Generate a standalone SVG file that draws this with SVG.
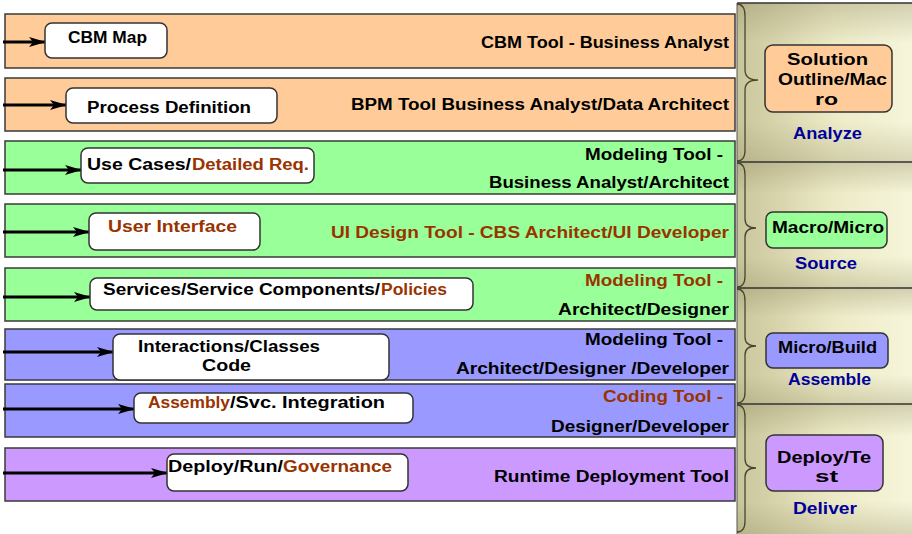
<svg xmlns="http://www.w3.org/2000/svg" width="912" height="534" viewBox="0 0 912 534">
<defs>
<style>
.t{font-family:"Liberation Sans",Arial,sans-serif;font-weight:bold;font-size:16px;fill:#000}
.r{fill:#993300}
.b{fill:#000099}
.band{stroke:#3a3a3a;stroke-width:1.5}
.node{fill:#fff;stroke:#333;stroke-width:1.5}
.lab{stroke:#333;stroke-width:1.5}
.conn{stroke:#000;stroke-width:3;fill:none;marker-end:url(#ah)}
.brace{fill:none;stroke:#4a4530;stroke-width:1.3}
.div{stroke:#333;stroke-width:1.5}
</style>
<marker id="ah" markerWidth="17" markerHeight="10" refX="16" refY="5" orient="auto" markerUnits="userSpaceOnUse">
<path d="M0,0 L17,5 L0,10 L4,5 z" fill="#000"/>
</marker>
<linearGradient id="gh" x1="0" y1="0" x2="1" y2="0">
<stop offset="0" stop-color="#C9C59B"/>
<stop offset="0.55" stop-color="#ECEAC6"/>
<stop offset="1" stop-color="#F6F5DA"/>
</linearGradient>
<linearGradient id="gv" x1="0" y1="0" x2="0" y2="1">
<stop offset="0" stop-color="#8f8a60" stop-opacity="0.35"/>
<stop offset="0.25" stop-color="#8f8a60" stop-opacity="0"/>
<stop offset="0.75" stop-color="#8f8a60" stop-opacity="0"/>
<stop offset="1" stop-color="#8f8a60" stop-opacity="0.3"/>
</linearGradient>
</defs>
<rect width="912" height="534" fill="#fff"/>

<!-- right panel -->
<g id="panel">
<rect x="737" y="3" width="175" height="531" fill="url(#gh)"/>
<rect x="737" y="3" width="175" height="159" fill="url(#gv)"/>
<rect x="737" y="162" width="175" height="126" fill="url(#gv)"/>
<rect x="737" y="288" width="175" height="116" fill="url(#gv)"/>
<rect x="737" y="404" width="175" height="130" fill="url(#gv)"/>
<line class="div" x1="737" y1="3" x2="912" y2="3"/>
<line class="div" x1="737" y1="162" x2="912" y2="162"/>
<line class="div" x1="737" y1="288" x2="912" y2="288"/>
<line class="div" x1="737" y1="404" x2="912" y2="404"/>
<line x1="737" y1="3" x2="737" y2="534" stroke="#555" stroke-width="1"/>
<path class="brace" d="M737,4 Q745,4 745,16 L745,70 Q745,80 758,80 Q745,80 745,90 L745,150 Q745,161 737,161"/>
<path class="brace" d="M737,163 Q745,163 745,175 L745,219 Q745,228 756,228 Q745,228 745,237 L745,276 Q745,287 737,287"/>
<path class="brace" d="M737,289 Q745,289 745,301 L745,337 Q745,346 756,346 Q745,346 745,355 L745,392 Q745,403 737,403"/>
<path class="brace" d="M737,405 Q745,405 745,417 L745,459 Q745,468 756,468 Q745,468 745,477 L745,521 Q745,532 737,532"/>
</g>

<!-- bands -->
<g id="bands">
<rect class="band" x="5" y="14" width="730" height="54" fill="#FFCC99"/>
<rect class="band" x="5" y="78" width="730" height="53" fill="#FFCC99"/>
<rect class="band" x="5" y="141" width="730" height="53" fill="#99FF99"/>
<rect class="band" x="5" y="204" width="730" height="53" fill="#99FF99"/>
<rect class="band" x="5" y="268" width="730" height="53" fill="#99FF99"/>
<rect class="band" x="5" y="329" width="730" height="51" fill="#9999FF"/>
<rect class="band" x="5" y="384" width="730" height="53" fill="#9999FF"/>
<rect class="band" x="5" y="448" width="730" height="53" fill="#CC99FF"/>
</g>

<!-- connectors -->
<g id="connectors">
<line class="conn" x1="3" y1="42" x2="45" y2="42"/>
<line class="conn" x1="3" y1="105" x2="66" y2="105"/>
<line class="conn" x1="3" y1="170" x2="81" y2="170"/>
<line class="conn" x1="3" y1="232" x2="89" y2="232"/>
<line class="conn" x1="3" y1="297" x2="90" y2="297"/>
<line class="conn" x1="3" y1="352" x2="113" y2="352"/>
<line class="conn" x1="3" y1="409" x2="134" y2="409"/>
<line class="conn" x1="3" y1="473" x2="167" y2="473"/>
</g>

<!-- band tool labels -->
<g id="tools">
<text class="t" x="729" y="48" text-anchor="end" textLength="248" lengthAdjust="spacingAndGlyphs">CBM Tool - Business Analyst</text>
<text class="t" x="729" y="110" text-anchor="end" textLength="378" lengthAdjust="spacingAndGlyphs">BPM Tool Business Analyst/Data Architect</text>
<text class="t" x="723" y="160" text-anchor="end" textLength="138" lengthAdjust="spacingAndGlyphs">Modeling Tool -</text>
<text class="t" x="729" y="188" text-anchor="end" textLength="240" lengthAdjust="spacingAndGlyphs">Business Analyst/Architect</text>
<text class="t r" x="729" y="238" text-anchor="end" textLength="398" lengthAdjust="spacingAndGlyphs">UI Design Tool - CBS Architect/UI Developer</text>
<text class="t r" x="723" y="286" text-anchor="end" textLength="138" lengthAdjust="spacingAndGlyphs">Modeling Tool -</text>
<text class="t" x="729" y="315" text-anchor="end" textLength="171" lengthAdjust="spacingAndGlyphs">Architect/Designer</text>
<text class="t" x="723" y="345" text-anchor="end" textLength="138" lengthAdjust="spacingAndGlyphs">Modeling Tool -</text>
<text class="t" x="729" y="374" text-anchor="end" textLength="273" lengthAdjust="spacingAndGlyphs">Architect/Designer /Developer</text>
<text class="t r" x="723" y="402" text-anchor="end" textLength="120" lengthAdjust="spacingAndGlyphs">Coding Tool -</text>
<text class="t" x="729" y="432" text-anchor="end" textLength="178" lengthAdjust="spacingAndGlyphs">Designer/Developer</text>
<text class="t" x="729" y="482" text-anchor="end" textLength="235" lengthAdjust="spacingAndGlyphs">Runtime Deployment Tool</text>
</g>

<!-- nodes -->
<g id="n-cbm-map">
<rect class="node" x="45" y="23" width="122" height="35" rx="7"/>
<text class="t" x="68" y="43" textLength="79" lengthAdjust="spacingAndGlyphs">CBM Map</text>
</g>
<g id="n-process-definition">
<rect class="node" x="66" y="88" width="211" height="35" rx="7"/>
<text class="t" x="87" y="113" textLength="164" lengthAdjust="spacingAndGlyphs">Process Definition</text>
</g>
<g id="n-use-cases">
<rect class="node" x="81" y="148" width="233" height="35" rx="7"/>
<text class="t" x="87" y="170" textLength="104" lengthAdjust="spacingAndGlyphs">Use Cases/</text>
<text class="t r" x="192" y="170" textLength="117" lengthAdjust="spacingAndGlyphs">Detailed Req.</text>
</g>
<g id="n-user-interface">
<rect class="node" x="89" y="213" width="171" height="37" rx="7"/>
<text class="t r" x="108" y="232" textLength="129" lengthAdjust="spacingAndGlyphs">User Interface</text>
</g>
<g id="n-services">
<rect class="node" x="90" y="278" width="383" height="32" rx="7"/>
<text class="t" x="103" y="295" textLength="277" lengthAdjust="spacingAndGlyphs">Services/Service Components/</text>
<text class="t r" x="381" y="295" textLength="66" lengthAdjust="spacingAndGlyphs">Policies</text>
</g>
<g id="n-interactions">
<rect class="node" x="113" y="334" width="276" height="46" rx="7"/>
<text class="t" x="138" y="352" textLength="182" lengthAdjust="spacingAndGlyphs">Interactions/Classes</text>
<text class="t" x="202" y="371" textLength="49" lengthAdjust="spacingAndGlyphs">Code</text>
</g>
<g id="n-assembly">
<rect class="node" x="134" y="393" width="279" height="30" rx="7"/>
<text class="t r" x="148" y="408" textLength="82" lengthAdjust="spacingAndGlyphs">Assembly</text>
<text class="t" x="230" y="408" textLength="155" lengthAdjust="spacingAndGlyphs">/Svc. Integration</text>
</g>
<g id="n-deploy-run">
<rect class="node" x="167" y="454" width="241" height="37" rx="7"/>
<text class="t" x="168" y="472" textLength="115" lengthAdjust="spacingAndGlyphs">Deploy/Run/</text>
<text class="t r" x="283" y="472" textLength="109" lengthAdjust="spacingAndGlyphs">Governance</text>
</g>

<!-- phase labels -->
<g id="n-analyze">
<rect class="lab" x="765" y="45" width="127" height="67" rx="8" fill="#FFCC99"/>
<text class="t" x="787" y="65" textLength="81" lengthAdjust="spacingAndGlyphs">Solution</text>
<text class="t" x="778" y="85" textLength="109" lengthAdjust="spacingAndGlyphs">Outline/Mac</text>
<text class="t" x="815" y="105" textLength="23" lengthAdjust="spacingAndGlyphs">ro</text>
<text class="t b" x="793" y="139" textLength="69" lengthAdjust="spacingAndGlyphs">Analyze</text>
</g>
<g id="n-source">
<rect class="lab" x="766" y="212" width="121" height="36" rx="7" fill="#99FF99"/>
<text class="t" x="772" y="233" textLength="112" lengthAdjust="spacingAndGlyphs">Macro/Micro</text>
<text class="t b" x="795" y="269" textLength="62" lengthAdjust="spacingAndGlyphs">Source</text>
</g>
<g id="n-assemble">
<rect class="lab" x="766" y="333" width="122" height="35" rx="7" fill="#9999FF"/>
<text class="t" x="778" y="353" textLength="99" lengthAdjust="spacingAndGlyphs">Micro/Build</text>
<text class="t b" x="788" y="385" textLength="83" lengthAdjust="spacingAndGlyphs">Assemble</text>
</g>
<g id="n-deliver">
<rect class="lab" x="766" y="435" width="117" height="56" rx="8" fill="#CC99FF"/>
<text class="t" x="777" y="463" textLength="94" lengthAdjust="spacingAndGlyphs">Deploy/Te</text>
<text class="t" x="815" y="482" textLength="23" lengthAdjust="spacingAndGlyphs">st</text>
<text class="t b" x="793" y="514" textLength="64" lengthAdjust="spacingAndGlyphs">Deliver</text>
</g>
</svg>
